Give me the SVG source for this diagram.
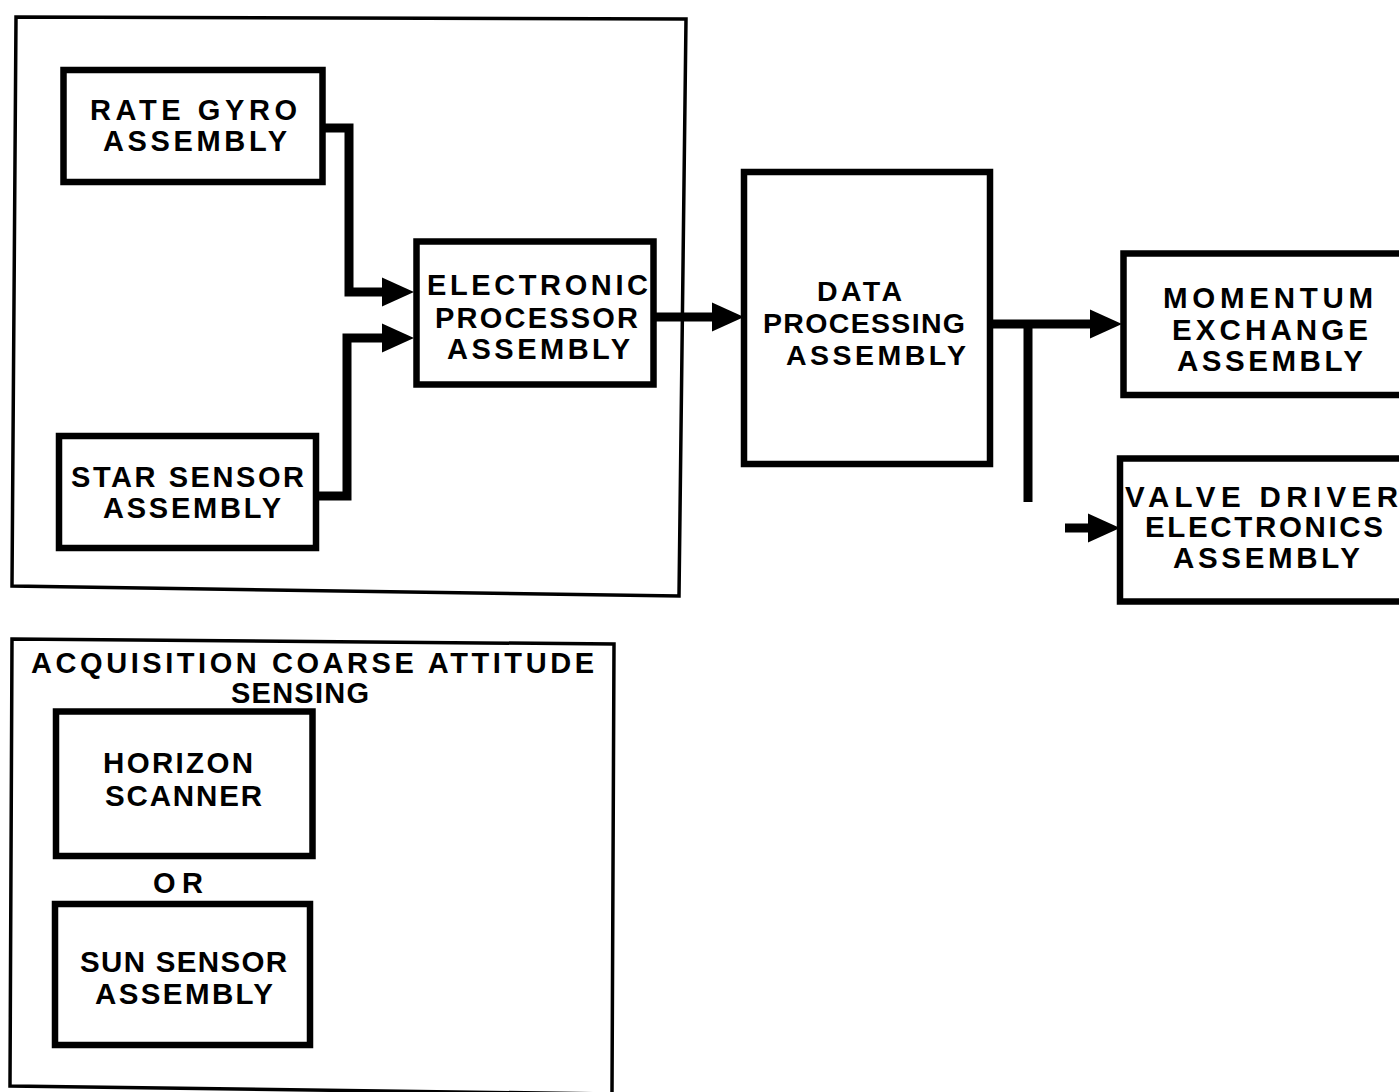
<svg xmlns="http://www.w3.org/2000/svg" width="1399" height="1092" viewBox="0 0 1399 1092">
<style>
.bg{fill:#fff}
.grp{fill:none;stroke:#000;stroke-width:3.5;stroke-linejoin:miter}
.box{fill:#fff;stroke:#000;stroke-width:6.5}
.t{font-family:"Liberation Sans",Arial,sans-serif;font-weight:bold;font-size:29px;fill:#000;text-anchor:middle}
.l{font-size:29.5px}
.s{font-size:28.5px}
.wire{fill:none;stroke:#000;stroke-width:9;stroke-linejoin:miter;stroke-linecap:butt}
</style>
<defs>
<marker id="ah" viewBox="0 -16 32 32" markerWidth="32" markerHeight="32" refX="10" refY="0" orient="auto" markerUnits="userSpaceOnUse">
<path d="M0,-14.5 L32,0 L0,14.5 z" fill="#000"/>
</marker>
</defs>
<rect class="bg" x="0" y="0" width="1399" height="1092"/>

<g id="group-attitude-sensing">
<polygon class="grp" points="16,17 686,19 679,596 12,586"/>
</g>
<g id="group-acquisition">
<polygon class="grp" points="12,639 614,644 612,1094 10,1086"/>
<text class="t" x="312.5" y="673" textLength="563" lengthAdjust="spacing">ACQUISITION COARSE ATTITUDE</text>
<text class="t" x="300" y="703" textLength="138" lengthAdjust="spacing">SENSING</text>
<text class="t" x="178" y="893" textLength="50" lengthAdjust="spacing">OR</text>
</g>

<g id="connectors">
<path class="wire" d="M322,128 H349 V292 H392" marker-end="url(#ah)"/>
<path class="wire" d="M318,496 H347 V338 H392" marker-end="url(#ah)"/>
<path class="wire" d="M655,317 H722" marker-end="url(#ah)"/>
<path class="wire" d="M992,324 H1100" marker-end="url(#ah)"/>
<path class="wire" d="M1028,320 V502"/>
<path class="wire" d="M1065,528 H1098" marker-end="url(#ah)"/>
</g>

<g id="rate-gyro">
<rect class="box" x="63.5" y="70" width="259" height="112"/>
<text class="t" x="193.5" y="120" textLength="207" lengthAdjust="spacing">RATE GYRO</text>
<text class="t" x="195" y="151" textLength="184" lengthAdjust="spacing">ASSEMBLY</text>
</g>
<g id="star-sensor">
<rect class="box" x="59" y="436" width="257" height="112"/>
<text class="t" x="187.5" y="487" textLength="233" lengthAdjust="spacing">STAR SENSOR</text>
<text class="t" x="192" y="518" textLength="178" lengthAdjust="spacing">ASSEMBLY</text>
</g>
<g id="electronic-processor">
<rect class="box" x="416.5" y="241.5" width="237" height="143"/>
<text class="t" x="537.5" y="295" textLength="221" lengthAdjust="spacing">ELECTRONIC</text>
<text class="t" x="536.5" y="328" textLength="203" lengthAdjust="spacing">PROCESSOR</text>
<text class="t" x="538.5" y="359" textLength="183" lengthAdjust="spacing">ASSEMBLY</text>
</g>
<g id="data-processing">
<rect class="box" x="744" y="172" width="246" height="292"/>
<text class="t s" x="859.5" y="301" textLength="85" lengthAdjust="spacing">DATA</text>
<text class="t s" x="864" y="333" textLength="202" lengthAdjust="spacing">PROCESSING</text>
<text class="t s" x="876" y="365" textLength="180" lengthAdjust="spacing">ASSEMBLY</text>
</g>
<g id="momentum-exchange">
<rect class="box" x="1123.5" y="253.5" width="300" height="141.5"/>
<text class="t l" x="1268" y="308" textLength="210" lengthAdjust="spacing">MOMENTUM</text>
<text class="t l" x="1270" y="340" textLength="196" lengthAdjust="spacing">EXCHANGE</text>
<text class="t l" x="1270" y="371" textLength="186" lengthAdjust="spacing">ASSEMBLY</text>
</g>
<g id="valve-driver">
<rect class="box" x="1120" y="458.5" width="300" height="143"/>
<text class="t l" x="1261.5" y="507" textLength="273" lengthAdjust="spacing">VALVE DRIVER</text>
<text class="t l" x="1264" y="537" textLength="238" lengthAdjust="spacing">ELECTRONICS</text>
<text class="t l" x="1266.5" y="568" textLength="187" lengthAdjust="spacing">ASSEMBLY</text>
</g>
<g id="horizon-scanner">
<rect class="box" x="56" y="711.5" width="256.5" height="144.5"/>
<text class="t l" x="178" y="773" textLength="150" lengthAdjust="spacing">HORIZON</text>
<text class="t l" x="183.5" y="806" textLength="157" lengthAdjust="spacing">SCANNER</text>
</g>
<g id="sun-sensor">
<rect class="box" x="55" y="904" width="255" height="141"/>
<text class="t l" x="183.5" y="972" textLength="207" lengthAdjust="spacing">SUN SENSOR</text>
<text class="t l" x="184" y="1004" textLength="178" lengthAdjust="spacing">ASSEMBLY</text>
</g>
</svg>
